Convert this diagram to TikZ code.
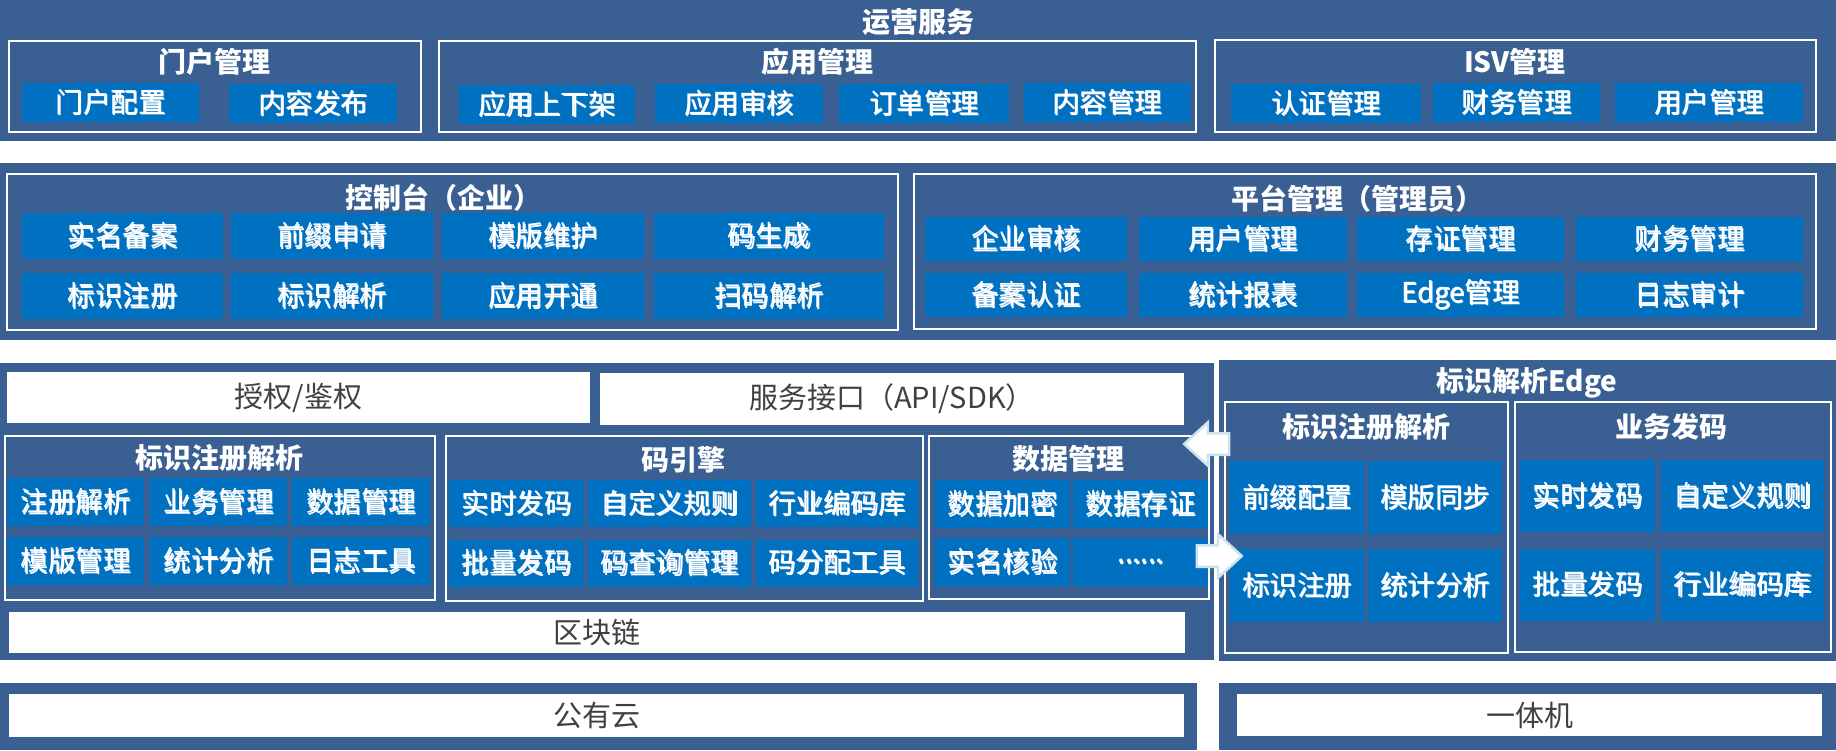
\documentclass[tikz,border=0pt]{standalone}
\usepackage{fontspec}
\setmainfont{Noto Sans CJK SC}
\usetikzlibrary{shapes.arrows}

\definecolor{bandblue}{RGB}{58,95,146}
\definecolor{cellblue}{RGB}{0,112,192}
\definecolor{bartext}{RGB}{64,64,64}
\definecolor{arrowedge}{RGB}{205,228,238}

\newsavebox\cellbox

\tikzset{
 band/.style={fill=bandblue, inner sep=0, outer sep=0},
 frame/.style={draw=white, line width=1.5, inner sep=0, outer sep=0},
 cell/.style={fill=cellblue, text=white, inner sep=0, outer sep=0, font=\fontsize{27.5}{27.5}\selectfont,
  execute at begin node={\begin{lrbox}{\cellbox}},
  execute at end node={\end{lrbox}\makebox[0pt][l]{\hspace{1.3pt}\raisebox{-1.3pt}{\textcolor{black!75}{\usebox\cellbox}}}\usebox\cellbox}},
 bar/.style={fill=white, text=bartext, inner sep=0, outer sep=0, font=\fontsize{29}{29}\selectfont},
 head/.style={text=white, inner sep=0, font=\fontsize{28}{28}\selectfont\bfseries},
 sz/.style 2 args={minimum width=#1, minimum height=#2},
 fatarrow/.style={single arrow, fill=white, draw=arrowedge, line width=2.5, minimum height=45, minimum width=42, inner sep=9.5, single arrow head extend=11, single arrow tip angle=85}
}

\begin{document}
\begin{tikzpicture}[x=1pt, y=-1pt]

 \useasboundingbox (0,0) rectangle (1836,750);

 % 运营服务
 \node[band, sz={1836}{141}] (yy) at (918,70.5) {};
 \node[head] (yyt) at (918,22) {运营服务};

 \node[frame, sz={412}{91}] (mh) at (215,86.5) {};
 \node[head] (mht) at (214,62) {门户管理};
 \node[cell, sz={177}{39}] (mh1) at (110.5,102.5) {门户配置};
 \node[cell, sz={168}{39}] (mh2) at (313,103.5) {内容发布};

 \node[frame, sz={757}{91}] (yg) at (817.5,86.5) {};
 \node[head] (ygt) at (817,62) {应用管理};
 \node[cell, sz={176}{39}] (yg1) at (547,104.5) {应用上下架};
 \node[cell, sz={168}{39}] (yg2) at (739,103.5) {应用审核};
 \node[cell, sz={170}{39}] (yg3) at (924,103.5) {订单管理};
 \node[cell, sz={166}{39}] (yg4) at (1107,102.5) {内容管理};

 \node[frame, sz={601}{92}] (isv) at (1515.5,86) {};
 \node[head] (isvt) at (1515,62) {ISV管理};
 \node[cell, sz={190}{39}] (isv1) at (1326,103.5) {认证管理};
 \node[cell, sz={167}{39}] (isv2) at (1516.5,102.5) {财务管理};
 \node[cell, sz={188}{39}] (isv3) at (1709,102.5) {用户管理};

 % 控制台 / 平台管理
 \node[band, sz={1836}{177}] (kz) at (918,251.5) {};

 \node[frame, sz={891}{156}] (qy) at (452.5,252) {};
 \node[head] (qyt) at (443,198) {控制台（企业）};
 \node[cell, sz={201}{46}] (qy1) at (122.5,236) {实名备案};
 \node[cell, sz={202}{46}] (qy2) at (332,236) {前缀申请};
 \node[cell, sz={202}{46}] (qy3) at (543,236) {模版维护};
 \node[cell, sz={230}{46}] (qy4) at (769,236) {码生成};
 \node[cell, sz={201}{46}] (qy5) at (122.5,296) {标识注册};
 \node[cell, sz={202}{46}] (qy6) at (332,296) {标识解析};
 \node[cell, sz={202}{46}] (qy7) at (543,296) {应用开通};
 \node[cell, sz={230}{46}] (qy8) at (769,296) {扫码解析};

 \node[frame, sz={902}{155}] (pt) at (1365,251.5) {};
 \node[head] (ptt) at (1357,199) {平台管理（管理员）};
 \node[cell, sz={202}{44}] (pt1) at (1026,239) {企业审核};
 \node[cell, sz={208}{44}] (pt2) at (1243,239) {用户管理};
 \node[cell, sz={207}{44}] (pt3) at (1460.5,239) {存证管理};
 \node[cell, sz={227}{44}] (pt4) at (1689.5,239) {财务管理};
 \node[cell, sz={202}{44}] (pt5) at (1026,295) {备案认证};
 \node[cell, sz={208}{44}] (pt6) at (1243,295) {统计报表};
 \node[cell, sz={207}{44}] (pt7) at (1460.5,295) {Edge管理};
 \node[cell, sz={227}{44}] (pt8) at (1689.5,295) {日志审计};

 % 核心
 \node[band, sz={1214}{297}] (hx) at (607,511.5) {};
 \node[bar, sz={583}{51}] (sq) at (298.5,397.5) {授权/鉴权};
 \node[bar, sz={584}{52}] (jk) at (892,399) {服务接口（API/SDK）};

 \node[frame, sz={430}{164}] (zc) at (220,518) {};
 \node[head] (zct) at (219,458) {标识注册解析};
 \node[cell, sz={137}{48}] (zc1) at (75.5,502) {注册解析};
 \node[cell, sz={137}{48}] (zc2) at (218.5,502) {业务管理};
 \node[cell, sz={138}{48}] (zc3) at (361,502) {数据管理};
 \node[cell, sz={137}{48}] (zc4) at (75.5,561) {模版管理};
 \node[cell, sz={137}{48}] (zc5) at (218.5,561) {统计分析};
 \node[cell, sz={138}{48}] (zc6) at (361,561) {日志工具};

 \node[frame, sz={477}{165}] (my) at (684.5,518.5) {};
 \node[head] (myt) at (683,460) {码引擎};
 \node[cell, sz={135}{47}] (my1) at (516.5,503.5) {实时发码};
 \node[cell, sz={163}{47}] (my2) at (669.5,503.5) {自定义规则};
 \node[cell, sz={162}{47}] (my3) at (837,503.5) {行业编码库};
 \node[cell, sz={135}{47}] (my4) at (516.5,563) {批量发码};
 \node[cell, sz={163}{47}] (my5) at (669.5,563) {码查询管理};
 \node[cell, sz={162}{47}] (my6) at (837,563) {码分配工具};

 \node[frame, sz={280}{163}] (sj) at (1069,517.5) {};
 \node[head] (sjt) at (1068,459) {数据管理};
 \node[cell, sz={135}{48}] (sj1) at (1002.5,504) {数据加密};
 \node[cell, sz={135}{48}] (sj2) at (1140.5,504) {数据存证};
 \node[cell, sz={135}{48}] (sj3) at (1002.5,562) {实名核验};
 \node[cell, sz={135}{48}] (sj4) at (1140.5,562) {......};

 \node[bar, sz={1176}{41}] (qk) at (597,632.5) {区块链};

 % 标识解析Edge
 \node[band, sz={617}{301}] (ed) at (1527.5,510.5) {};
 \node[head] (edt) at (1527,383) {标识解析Edge};

 \node[frame, sz={283}{251}] (ezc) at (1366.5,527.5) {};
 \node[head] (ezct) at (1366,427) {标识注册解析};
 \node[cell, sz={134}{73}] (ezc1) at (1297,497.5) {前缀配置};
 \node[cell, sz={134}{73}] (ezc2) at (1435,497.5) {模版同步};
 \node[cell, sz={134}{73}] (ezc3) at (1297,585.5) {标识注册};
 \node[cell, sz={134}{73}] (ezc4) at (1435,585.5) {统计分析};

 \node[frame, sz={316}{250}] (efm) at (1673,527) {};
 \node[head] (efmt) at (1671,427) {业务发码};
 \node[cell, sz={135}{72}] (efm1) at (1587.5,496) {实时发码};
 \node[cell, sz={163}{72}] (efm2) at (1742.5,496) {自定义规则};
 \node[cell, sz={135}{72}] (efm3) at (1587.5,584.5) {批量发码};
 \node[cell, sz={163}{72}] (efm4) at (1742.5,584.5) {行业编码库};

 \node[fatarrow, shape border rotate=180] (ain) at (1212.5,444) {};
 \node[fatarrow] (aout) at (1213.5,556) {};

 % 部署
 \node[band, sz={1197}{67}] (gy) at (598.5,716.5) {};
 \node[bar, sz={1175}{43}] (gyy) at (596.5,715.5) {公有云};
 \node[band, sz={617}{67}] (yt) at (1527.5,716.5) {};
 \node[bar, sz={585}{42}] (ytj) at (1529.5,715) {一体机};

\end{tikzpicture}
\end{document}
